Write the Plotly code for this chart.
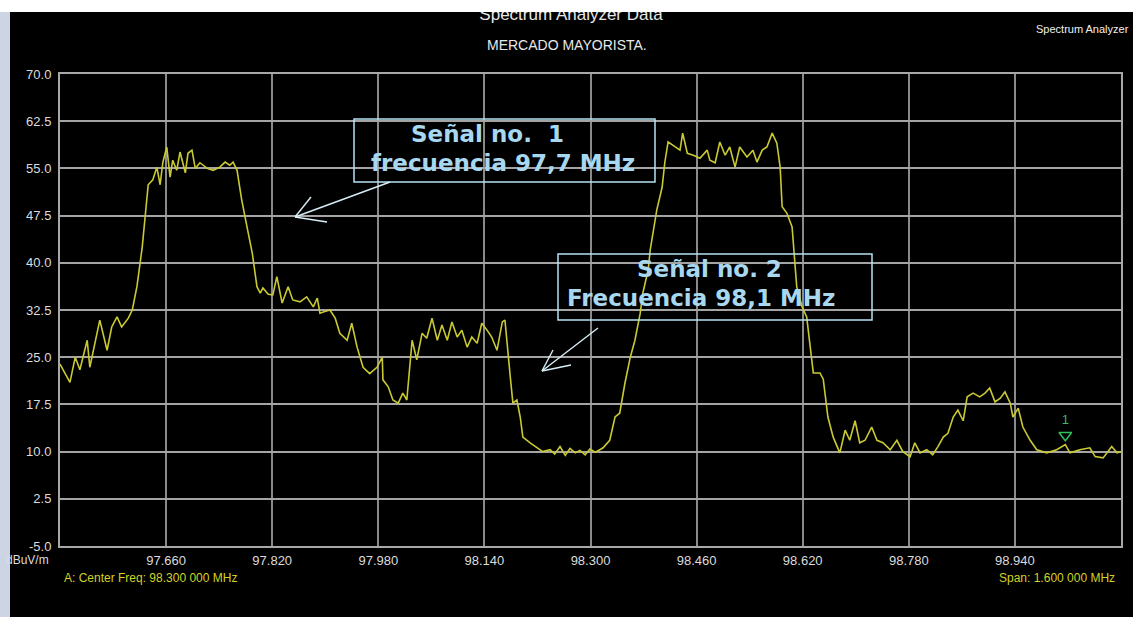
import plotly.graph_objects as go

# Spectrum trace: frequency (MHz) and field strength (dBuV/m)
freq_mhz = [
    97.500, 97.515, 97.523, 97.530, 97.541, 97.545, 97.560, 97.571, 97.578, 97.586,
    97.593, 97.603, 97.609, 97.616, 97.624, 97.631, 97.633, 97.640, 97.646, 97.651,
    97.655, 97.661, 97.666, 97.670, 97.676, 97.681, 97.689, 97.693, 97.699, 97.704,
    97.711, 97.722, 97.731, 97.741, 97.749, 97.756, 97.761, 97.767, 97.774, 97.782,
    97.790, 97.797, 97.802, 97.806, 97.814, 97.821, 97.827, 97.835, 97.844, 97.851,
    97.862, 97.872, 97.882, 97.888, 97.892, 97.897, 97.907, 97.915, 97.922, 97.933,
    97.940, 97.948, 97.957, 97.967, 97.978, 97.986, 97.987, 97.995, 98.002, 98.010,
    98.017, 98.023, 98.028, 98.031, 98.038, 98.046, 98.053, 98.061, 98.069, 98.076,
    98.084, 98.091, 98.099, 98.106, 98.114, 98.121, 98.129, 98.136, 98.144, 98.151,
    98.159, 98.167, 98.171, 98.174, 98.179, 98.183, 98.189, 98.194, 98.198, 98.209,
    98.219, 98.228, 98.239, 98.246, 98.254, 98.262, 98.269, 98.277, 98.284, 98.292,
    98.299, 98.307, 98.314, 98.319, 98.329, 98.337, 98.344, 98.352, 98.360, 98.367,
    98.375, 98.379, 98.387, 98.390, 98.400, 98.408, 98.412, 98.417, 98.424, 98.435,
    98.439, 98.446, 98.455, 98.465, 98.476, 98.480, 98.488, 98.495, 98.503, 98.510,
    98.518, 98.525, 98.536, 98.545, 98.551, 98.559, 98.566, 98.574, 98.581, 98.586,
    98.589, 98.596, 98.604, 98.611, 98.619, 98.626, 98.636, 98.646, 98.651, 98.658,
    98.666, 98.676, 98.684, 98.691, 98.699, 98.706, 98.714, 98.724, 98.732, 98.741,
    98.752, 98.762, 98.771, 98.782, 98.789, 98.797, 98.807, 98.816, 98.824, 98.832,
    98.839, 98.847, 98.854, 98.862, 98.868, 98.877, 98.887, 98.895, 98.902, 98.910,
    98.918, 98.925, 98.933, 98.937, 98.945, 98.952, 98.963, 98.973, 98.988, 99.003,
    99.016, 99.023, 99.038, 99.053, 99.061, 99.073, 99.086, 99.094, 99.100,
]
level_dbuv = [
    23.9, 21.0, 25.0, 23.0, 27.7, 23.4, 30.9, 26.1, 29.8, 31.4,
    29.8, 31.2, 32.5, 36.2, 42.5, 50.0, 52.4, 53.2, 55.2, 52.4,
    55.9, 58.4, 53.6, 56.3, 54.7, 57.6, 54.3, 57.4, 57.9, 55.0,
    55.9, 55.0, 54.7, 55.2, 56.0, 55.5, 56.0, 54.7, 50.0, 45.7,
    41.5, 36.2, 35.2, 36.0, 35.0, 34.9, 37.8, 33.6, 36.2, 34.1,
    33.8, 34.6, 33.0, 34.4, 32.0, 32.2, 32.5, 31.2, 28.8, 27.7,
    30.4, 26.6, 23.4, 22.4, 23.4, 25.0, 21.4, 20.3, 18.2, 17.7,
    19.3, 18.2, 24.6, 27.7, 24.6, 28.8, 28.0, 31.2, 27.7, 30.1,
    27.7, 30.6, 28.2, 29.3, 26.6, 28.2, 27.2, 30.4, 29.3, 28.2,
    26.1, 30.6, 30.9, 27.2, 21.9, 17.7, 18.2, 15.5, 12.3, 11.4,
    10.6, 10.0, 10.3, 9.6, 10.8, 9.4, 10.5, 9.8, 10.2, 9.5,
    10.4, 9.9, 10.3, 10.6, 11.8, 15.5, 16.1, 20.9, 25.0, 27.7,
    32.0, 35.2, 38.9, 42.0, 48.4, 52.0, 55.9, 59.2, 58.7, 57.9,
    60.6, 57.4, 57.1, 56.6, 57.9, 56.3, 55.9, 59.2, 57.1, 58.4,
    55.2, 58.4, 56.8, 57.9, 56.0, 57.9, 58.4, 60.6, 59.0, 55.2,
    48.9, 47.9, 45.7, 36.2, 33.0, 31.4, 22.5, 22.5, 21.5, 15.5,
    12.3, 9.8, 13.4, 11.8, 14.9, 11.4, 11.8, 13.9, 11.8, 11.4,
    10.3, 11.8, 10.0, 9.2, 11.4, 9.8, 10.3, 9.5, 10.8, 12.3,
    12.9, 15.5, 16.6, 14.9, 18.7, 19.3, 18.7, 19.3, 20.1, 17.9,
    18.5, 19.5, 17.7, 15.5, 16.9, 13.9, 11.8, 10.3, 9.8, 10.3,
    11.1, 9.8, 10.3, 10.6, 9.2, 9.0, 10.8, 9.8, 10.0,
]

# Axis ticks
y_ticks = [-5.0, 2.5, 10.0, 17.5, 25.0, 32.5, 40.0, 47.5, 55.0, 62.5, 70.0]
y_tick_labels = ["-5.0", "2.5", "10.0", "17.5", "25.0", "32.5", "40.0", "47.5", "55.0", "62.5", "70.0"]
x_ticks = [97.66, 97.82, 97.98, 98.14, 98.30, 98.46, 98.62, 98.78, 98.94]
x_tick_labels = ["97.660", "97.820", "97.980", "98.140", "98.300", "98.460", "98.620", "98.780", "98.940"]
x_range = [97.5, 99.1]
y_range = [-5.0, 70.0]

# Marker 1
marker_freq = [99.016]
marker_level = [12.6]
marker_label = ["1"]

# Captions
title_text = "Spectrum Analyzer Data"
subtitle_text = "MERCADO MAYORISTA."
corner_text = "Spectrum Analyzer"
unit_text = "dBuV/m"
center_freq_text = "A: Center Freq: 98.300 000 MHz"
span_text = "Span: 1.600 000 MHz"
signal1_lines = ["Señal no.  1", "frecuencia 97,7 MHz"]
signal2_lines = ["Señal no. 2", "Frecuencia 98,1 MHz"]

W, H = 1133, 617


def px(v):
    return v / W


def py(v):
    return (H - v) / H


AX_FONT = "Liberation Sans, Arial, sans-serif"
BOX_FONT = "DejaVu Sans, Verdana, sans-serif"
TRACE_COLOR = "#c9c934"
TEXT_GRAY = "#dcdcdc"
YELLOW = "#d2d224"
CALLOUT = "#a8d8f0"
CALLOUT_LINE = "#b4e2f2"
ARROW = "#d6eef6"
MARKER_GREEN = "#2fbf5f"

fig = go.Figure()

fig.add_trace(go.Scatter(
    x=freq_mhz, y=level_dbuv, mode="lines",
    line=dict(color=TRACE_COLOR, width=1.6),
    hoverinfo="x+y", showlegend=False,
))

fig.add_trace(go.Scatter(
    x=marker_freq, y=marker_level, mode="markers+text",
    marker=dict(symbol="triangle-down-open", size=11, color=MARKER_GREEN, line=dict(width=1.5)),
    text=marker_label, textposition="top center",
    textfont=dict(family=AX_FONT, size=13, color=MARKER_GREEN),
    showlegend=False,
))

# Title sits in a thin strip so its top edge is clipped under the white band
fig.add_trace(go.Scatter(
    x=[px(571)], y=[(60 - 15.5) / 48], mode="text", text=[title_text],
    textposition="middle center", cliponaxis=True,
    textfont=dict(family=AX_FONT, size=17, color="#e8e8e8"),
    xaxis="x2", yaxis="y2", showlegend=False, hoverinfo="skip",
))

fig.update_layout(
    width=W, height=H, autosize=False,
    margin=dict(l=0, r=0, t=0, b=0, pad=0, autoexpand=False),
    paper_bgcolor="#000000", plot_bgcolor="#000000",
    showlegend=False,
    xaxis=dict(
        domain=[px(60), px(1121)], range=x_range, automargin=False,
        tickmode="array", tickvals=x_ticks, ticktext=x_tick_labels,
        showgrid=True, gridcolor="#8a8a8a", gridwidth=2,
        showline=True, linecolor="#a8a8a8", linewidth=2, mirror=True,
        zeroline=False, ticks="", ticklabelstandoff=1,
        tickfont=dict(family=AX_FONT, size=13, color=TEXT_GRAY),
    ),
    yaxis=dict(
        domain=[py(546), py(74)], range=y_range, automargin=False,
        tickmode="array", tickvals=y_ticks, ticktext=y_tick_labels,
        showgrid=True, gridcolor="#a4a4a4", gridwidth=2,
        showline=True, linecolor="#a8a8a8", linewidth=2, mirror=True,
        zeroline=False, ticks="", ticklabelstandoff=4,
        tickfont=dict(family=AX_FONT, size=13, color=TEXT_GRAY),
    ),
    xaxis2=dict(domain=[0, 1], range=[0, 1], visible=False, anchor="y2",
                fixedrange=True, automargin=False),
    yaxis2=dict(domain=[py(60), py(12)], range=[0, 1], visible=False, anchor="x2",
                fixedrange=True, automargin=False),
)

shapes = [
    # white band along the top and pale strip on the left edge
    dict(type="rect", xref="paper", yref="paper", x0=0, x1=1, y0=py(12), y1=1,
         fillcolor="#ffffff", line=dict(width=0), layer="above"),
    dict(type="rect", xref="paper", yref="paper", x0=0, x1=px(10), y0=0, y1=py(12),
         fillcolor="#cdd5e5", line=dict(width=0), layer="above"),
    # callout boxes
    dict(type="rect", xref="paper", yref="paper", x0=px(354), x1=px(655), y0=py(182), y1=py(119),
         line=dict(color=CALLOUT_LINE, width=1.5), fillcolor="rgba(0,0,0,0)", layer="above"),
    dict(type="rect", xref="paper", yref="paper", x0=px(558), x1=px(872), y0=py(320), y1=py(254),
         line=dict(color=CALLOUT_LINE, width=1.5), fillcolor="rgba(0,0,0,0)", layer="above"),
]

# hand-drawn style arrows: shaft plus two open head strokes
arrows = [
    ((390, 182), (295, 217), [(311, 197), (327, 222)]),
    ((598, 328), (542, 371), [(553, 350), (571, 365)]),
]
for (sx, sy), (tx, ty), heads in arrows:
    shapes.append(dict(type="line", xref="paper", yref="paper",
                       x0=px(sx), y0=py(sy), x1=px(tx), y1=py(ty),
                       line=dict(color=ARROW, width=1.4), layer="above"))
    for hx, hy in heads:
        shapes.append(dict(type="line", xref="paper", yref="paper",
                           x0=px(tx), y0=py(ty), x1=px(hx), y1=py(hy),
                           line=dict(color=ARROW, width=1.4), layer="above"))

fig.update_layout(shapes=shapes)


def note(text, x, y, size, color, family=AX_FONT, xanchor="center", bold=False):
    fig.add_annotation(
        text=f"<b>{text}</b>" if bold else text,
        xref="paper", yref="paper", x=px(x), y=py(y),
        xanchor=xanchor, yanchor="middle", showarrow=False,
        font=dict(family=family, size=size, color=color),
    )


note(subtitle_text, 567, 45, 14, "#e8e8e8")
note(corner_text, 1131, 29, 11, "#f0f0f0", xanchor="right")
note(unit_text, 51, 560, 12, TEXT_GRAY, xanchor="right")
note(center_freq_text, 62, 578, 12, YELLOW, xanchor="left")
note(span_text, 1117, 578, 12, YELLOW, xanchor="right")

note(signal1_lines[0], 409, 134, 23, CALLOUT, family=BOX_FONT, xanchor="left", bold=True)
note(signal1_lines[1], 369, 163, 23, CALLOUT, family=BOX_FONT, xanchor="left", bold=True)
note(signal2_lines[0], 635, 269, 23, CALLOUT, family=BOX_FONT, xanchor="left", bold=True)
note(signal2_lines[1], 565, 298, 23, CALLOUT, family=BOX_FONT, xanchor="left", bold=True)

fig.write_html("out.html")
